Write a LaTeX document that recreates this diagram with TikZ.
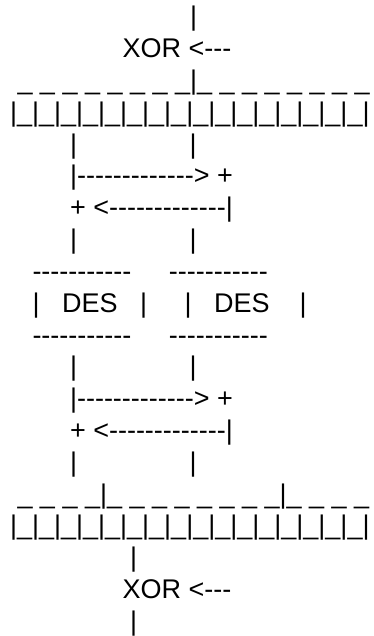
\documentclass[tikz,border=0pt]{standalone}
\usepackage{fontspec}
\setmainfont{Liberation Sans}
\newcount\myrepc
\newcommand\rep[2]{\myrepc=#1\relax\loop\ifnum\myrepc>0 #2\advance\myrepc by -1 \repeat}
\newcommand\hy{\mbox{-}}
\newcommand\sps[1]{\rep{#1}{~}}
\begin{document}
\begin{tikzpicture}[x=1pt,y=-1pt,
  asc/.style={anchor=base west, inner sep=0pt, outer sep=0pt,
              font=\fontsize{27}{32}\selectfont}]
\useasboundingbox (0,0) rectangle (374,636);
\def\lx{10}
\node[asc] (l0)  at (\lx, 26.0) {\sps{24}|};
\node[asc] (l1)  at (\lx, 57.8) {\sps{15}XOR~<\hy\hy\hy};
\node[asc] (l2)  at (\lx, 89.6) {~\_\rep{7}{~\_}|\_\rep{7}{~\_}};
\node[asc] (l3)  at (\lx,121.4) {|\rep{16}{\_|}};
\node[asc] (l4)  at (\lx,153.2) {\sps{8}|\sps{15}|};
\node[asc] (l5)  at (\lx,185.0) {\sps{8}|\rep{13}{\hy}>~+};
\node[asc] (l6)  at (\lx,216.8) {\sps{8}+~<\rep{13}{\hy}|};
\node[asc] (l7)  at (\lx,248.6) {\sps{8}|\sps{15}|};
\node[asc] (l8)  at (\lx,280.4) {\sps{3}\rep{11}{\hy}\sps{5}\rep{11}{\hy}};
\node[asc] (l9)  at (\lx,312.2) {\sps{3}|\sps{3}DES\sps{3}|\sps{5}|\sps{3}DES\sps{4}|};
\node[asc] (l10) at (\lx,344.0) {\sps{3}\rep{11}{\hy}\sps{5}\rep{11}{\hy}};
\node[asc] (l11) at (\lx,375.8) {\sps{8}|\sps{15}|};
\node[asc] (l12) at (\lx,407.6) {\sps{8}|\rep{13}{\hy}>~+};
\node[asc] (l13) at (\lx,439.4) {\sps{8}+~<\rep{13}{\hy}|};
\node[asc] (l14) at (\lx,471.2) {\sps{8}|\sps{15}|};
\node[asc] (l15) at (\lx,503.0) {~\_\rep{3}{~\_}|\_\rep{7}{~\_}|\_\rep{3}{~\_}};
\node[asc] (l16) at (\lx,534.8) {|\rep{16}{\_|}};
\node[asc] (l17) at (\lx,566.6) {\sps{16}|};
\node[asc] (l18) at (\lx,598.4) {\sps{15}XOR~<\hy\hy\hy};
\node[asc] (l19) at (\lx,630.2) {\sps{16}|};
\end{tikzpicture}
\end{document}
